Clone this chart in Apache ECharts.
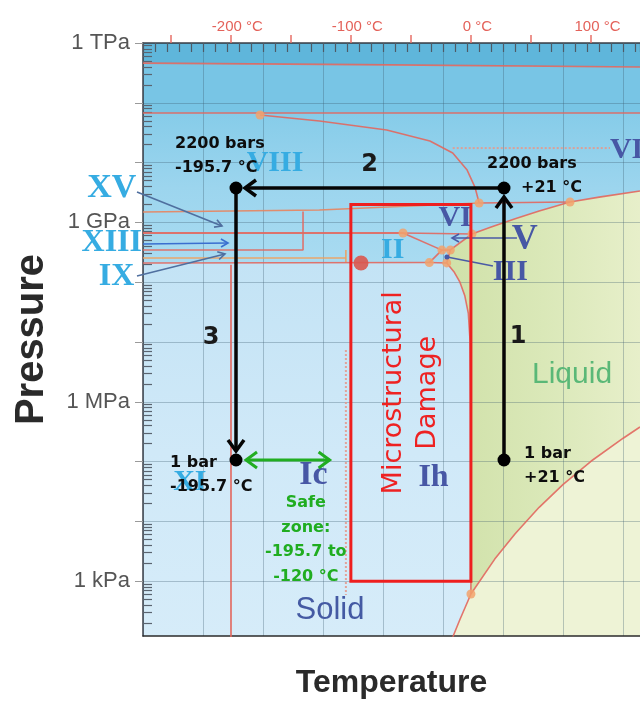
<!DOCTYPE html>
<html>
<head>
<meta charset="utf-8">
<title>Water phase diagram with cryogenic pressure path</title>
<script src="https://cdn.jsdelivr.net/npm/echarts@6.0.0/dist/echarts.min.js"></script>
<style>
  html, body { margin: 0; padding: 0; background: #ffffff; }
  #chart { width: 640px; height: 702px; }
</style>
</head>
<body>
<div id="chart"></div>
<script>
// ---------------------------------------------------------------------------
// Data
// ---------------------------------------------------------------------------
const K0 = 273.15; // 0 °C in kelvin

// Celsius scale printed along the top edge
const celsiusTicks  = [-250, -200, -150, -100, -50, 0, 50, 100];
const celsiusLabels = [-200, -100, 0, 100];

// Pressure scale (Pa)
const pressureTickValues  = [1e3, 1e4, 1e5, 1e6, 1e7, 1e8, 1e9, 1e10, 1e11, 1e12];
const pressureLabelValues = [1e3, 1e6, 1e9, 1e12];
const pressureLabels      = ['1 kPa', '1 MPa', '1 GPa', '1 TPa'];

// Filled phase regions, [T (K), P (Pa)]
const regionHighest  = [[0, 1e12], [414, 1e12], [414, 3.97e11], [0, 4.6e11]];
const regionUpper    = [[0, 4.6e11], [414, 3.97e11], [414, 6.75e10], [0, 6.75e10]];
const regionSolidHi  = [[0, 6.75e10], [414, 6.75e10], [414, 2.1e8], [0, 2.1e8]];
const regionSolidLo  = [[0, 2.1e8], [414, 2.1e8], [414, 100], [0, 100]];
const regionLiquid   = [[273.16, 611.657], [273.15, 1e5], [273, 1e6], [272.5, 1e7], [271, 3e7], [268, 6e7],
                        [264, 1e8], [259, 1.5e8], [253, 2.1e8], [256, 3.46e8], [274, 6.4e8], [290, 8.4e8],
                        [310, 1.15e9], [330, 1.55e9], [355.7, 2.19e9], [380, 2.65e9], [414, 3.35e9],
                        [414, 3.8e5], [400, 2.46e5], [373.15, 1.013e5], [350, 4.17e4], [330, 1.72e4],
                        [310, 6.2e3], [293, 2.34e3]];
const regionVapour   = [[273.16, 611.657], [293, 2.34e3], [310, 6.2e3], [330, 1.72e4], [350, 4.17e4],
                        [373.15, 1.013e5], [400, 2.46e5], [414, 3.8e5], [414, 100], [256.5, 100],
                        [258.4, 121], [264, 229]];

// Phase boundaries, [T (K), P (Pa)]
const boundaryTop     = [[0, 4.6e11], [180, 4.35e11], [414, 3.97e11]];
const boundaryX       = [[0, 6.75e10], [414, 6.75e10]];
const boundaryVIIIVII = [[97.5, 6.25e10], [147, 4.96e10], [203, 3.51e10], [239, 2.3e10], [258, 1.45e10],
                         [270, 7.5e9], [276.5, 3.9e9], [280, 2.11e9]];
const boundaryVIVIII  = [[0, 1.49e9], [147, 1.61e9], [280, 2.11e9]];
const boundaryVIVII   = [[280, 2.11e9], [355.7, 2.19e9]];
const meltVII         = [[355.7, 2.19e9], [380, 2.65e9], [414, 3.35e9]];
const meltVI          = [[274, 6.4e8], [290, 8.4e8], [310, 1.15e9], [330, 1.55e9], [355.7, 2.19e9]];
const boundaryIIVI    = [[0, 6.65e8], [216.6, 6.65e8]];
const boundaryVVI     = [[216.6, 6.65e8], [274, 6.4e8]];
const boundaryXV      = [[0, 3.45e8], [133.3, 3.45e8], [133.3, 1.52e9]];
const boundaryIX      = [[0, 2.54e8], [169, 2.54e8]];
const boundaryIXside  = [[169, 3.45e8], [169, 2.15e8]];
const boundaryIhII    = [[0, 2.1e8], [238.5, 2.13e8]];
const boundaryIIV     = [[216.6, 6.65e8], [249, 3.44e8]];
const boundaryIIIII   = [[249, 3.44e8], [238.5, 2.13e8]];
const boundaryIIIV    = [[249, 3.44e8], [256, 3.46e8]];
const meltV           = [[256, 3.46e8], [274, 6.4e8]];
const meltIII         = [[256, 3.46e8], [253, 2.1e8]];
const boundaryIhIII   = [[238.5, 2.13e8], [253, 2.1e8]];
const meltIh          = [[253, 2.1e8], [259, 1.5e8], [264, 1e8], [268, 6e7], [271, 3e7], [272.5, 1e7],
                         [273, 1e6], [273.15, 1e5], [273.16, 611.657]];
const boilingCurve    = [[273.16, 611.657], [293, 2.34e3], [310, 6.2e3], [330, 1.72e4], [350, 4.17e4],
                         [373.15, 1.013e5], [400, 2.46e5], [414, 3.8e5]];
const sublimationCurve = [[273.16, 611.657], [264, 229], [258.4, 121], [256.5, 100]];
const boundaryXIIh    = [[73.3, 1.95e8], [73.3, 100]];
const boundaryIcIh    = [[169, 7.35e6], [169, 590]];
const boundaryVIIdots = [[258, 1.75e10], [389, 1.75e10]];

// Triple points and markers, [T (K), P (Pa)]
const triplePoints = [[97.5, 6.25e10], [280, 2.11e9], [355.7, 2.19e9], [216.6, 6.65e8], [274, 6.4e8],
                      [249, 3.44e8], [256, 3.46e8], [238.5, 2.13e8], [253, 2.1e8], [273.16, 611.657]];
const redMarker    = [[181.6, 2.1e8]];

// Phase names and where they are written, [T (K), P (Pa)]
const phaseNames  = ['VIII', 'VII', 'VI', 'V', 'II', 'III', 'XI', 'Ic', 'Ih', 'XV', 'XIII', 'IX'];
const phaseLabelT = [110, 407.7, 260, 318, 208, 306, 39, 142, 242, -26, -26, -22];
const phaseLabelP = [9.84e9, 1.63e10, 1.19e9, 5.08e8, 3.45e8, 1.48e8, 4.56e4, 5.97e4, 5.32e4, 3.76e9, 4.53e8, 1.22e8];
const stateNames  = ['Solid', 'Liquid'];
const stateT      = [155.8, 357.4];
const stateP      = [330, 2.8e6];

// Leader arrows from phase names to their fields
const pointerXV   = [[-5, 3.22e9], [65.8, 8.7e8]];
const pointerXIII = [[0, 4.36e8], [70.8, 4.53e8]];
const pointerIX   = [[-5, 1.27e8], [68.3, 2.97e8]];
const pointerV    = [[311.5, 5.48e8], [257.4, 5.48e8]];
const pointerIII  = [[291.5, 1.87e8], [253.2, 2.63e8]];

// Cryogenic path: compress, cool, release (°C, bar)
const pathTempC = [21, 21, -195.7, -195.7];
const pathBar   = [1, 2200, 2200, 1];
const pathSteps = ['1', '2', '3'];

// Safe handling window at 1 bar (°C)
const safeZoneC   = [-195.7, -120];
const safeZoneBar = 1;

// Microstructural damage window (°C, Pa)
const damageC  = [-100, 0];
const damagePa = [1e3, 2e9];

// ---------------------------------------------------------------------------
// Helpers
// ---------------------------------------------------------------------------
const lg = Math.log10;
const toXY = pts => pts.map(p => [p[0], lg(p[1])]);
const minorLogTicks = [];
for (let e = 2; e < 12; e++) for (let k = 2; k <= 9; k++) minorLogTicks.push(e + lg(k));

const Y_MIN = 2.0836, Y_MAX = 12;
const grad = (dirX, stops) => new echarts.graphic.LinearGradient(0, 0, dirX ? 1 : 0, dirX ? 0 : 1,
  stops.map((c, i) => ({ offset: i / (stops.length - 1), color: c })));

function chevron(tip, ux, uy, back, spread) {
  const bx = tip[0] - ux * back, by = tip[1] - uy * back;
  return [[bx - uy * spread, by + ux * spread], tip, [bx + uy * spread, by - ux * spread]];
}

const RED = '#e2675e';
function boundary(pts, extra) {
  return Object.assign({
    type: 'line', xAxisIndex: 0, yAxisIndex: 0, data: toXY(pts), symbol: 'none', showSymbol: false,
    silent: true, clip: true, z: 3,
    lineStyle: Object.assign({ color: RED, width: 1.6, opacity: 0.9 }, extra || {})
  });
}

// ---------------------------------------------------------------------------
// Series
// ---------------------------------------------------------------------------
const regionList  = [regionHighest, regionUpper, regionSolidHi, regionSolidLo, regionLiquid, regionVapour];
const regionFills = [
  '#5fb6db',
  '#78c5e5',
  grad(false, ['#86cce9', '#9cd5ee', '#a9dbf1']),
  grad(false, ['#c3e3f5', '#d0e9f8', '#d6ecf9']),
  grad(true,  ['#d0e1a9', '#dae8b8', '#e7efca']),
  '#eef3d6'
];

const regionSeries = {
  type: 'custom', xAxisIndex: 0, yAxisIndex: 0, z: -1, silent: true, clip: true,
  data: regionList.map(r => [r[0][0], lg(r[0][1])]),
  renderItem(params, api) {
    const pts = regionList[params.dataIndex].map(p => api.coord([p[0], lg(p[1])]));
    return { type: 'polygon', shape: { points: pts }, style: { fill: regionFills[params.dataIndex] } };
  }
};

const boundarySeries = [
  boundary(boundaryTop), boundary(boundaryX), boundary(boundaryVIIIVII),
  boundary(boundaryVIVIII, { color: '#e8845e' }), boundary(boundaryVIVII), boundary(meltVII), boundary(meltVI),
  boundary(boundaryIIVI, { width: 2.2 }), boundary(boundaryVVI), boundary(boundaryXV),
  boundary(boundaryIX, { color: '#f0a05c' }), boundary(boundaryIXside, { color: '#f0a05c' }),
  boundary(boundaryIhII), boundary(boundaryIIV), boundary(boundaryIIIII), boundary(boundaryIIIV),
  boundary(meltV), boundary(meltIII), boundary(boundaryIhIII), boundary(meltIh),
  boundary(boilingCurve), boundary(sublimationCurve), boundary(boundaryXIIh, { width: 1.8 }),
  boundary(boundaryIcIh, { type: 'dotted', width: 2, color: '#e39a8f' }),
  boundary(boundaryVIIdots, { type: 'dotted', width: 2, color: '#e39a8f' })
];

const pointSeries = [
  { type: 'scatter', xAxisIndex: 0, yAxisIndex: 0, data: toXY(triplePoints), symbolSize: 9, silent: true, z: 4,
    itemStyle: { color: '#f2a26c', opacity: 0.85 } },
  { type: 'scatter', xAxisIndex: 0, yAxisIndex: 0, data: toXY(redMarker), symbolSize: 15, silent: true, z: 4,
    itemStyle: { color: '#d9574f', opacity: 0.9 } }
];

const lightPhases = new Set(['VIII', 'II', 'XI', 'XV', 'XIII', 'IX']);
const phaseSizes  = { VIII: 30, VII: 30, VI: 30, V: 36, II: 30, III: 30, XI: 30, Ic: 34, Ih: 32, XV: 34, XIII: 32, IX: 32 };
const phaseLabelSeries = {
  type: 'scatter', xAxisIndex: 0, yAxisIndex: 0, symbolSize: 0, silent: true, clip: false, z: 5,
  itemStyle: { opacity: 1 },
  data: phaseNames.map((n, i) => ({
    name: n, value: [phaseLabelT[i], lg(phaseLabelP[i])],
    label: { color: lightPhases.has(n) ? '#36ace2' : '#4757a5', fontSize: phaseSizes[n] }
  })),
  label: { show: true, opacity: 1, position: 'inside', formatter: p => p.name, fontFamily: 'Liberation Serif', fontWeight: 'bold' }
};

const stateLabelSeries = {
  type: 'scatter', xAxisIndex: 0, yAxisIndex: 0, symbolSize: 0, silent: true, z: 5,
  itemStyle: { opacity: 1 },
  data: stateNames.map((n, i) => ({
    name: n, value: [stateT[i], lg(stateP[i])],
    label: n === 'Solid' ? { color: '#445aa3', fontSize: 31 } : { color: '#5ab877', fontSize: 30 }
  })),
  label: { show: true, opacity: 1, position: 'inside', formatter: p => p.name, fontFamily: 'Liberation Sans' }
};

const pointerList   = [pointerXV, pointerXIII, pointerIX, pointerV, pointerIII];
const pointerColors = ['#4f6f9f', '#3a6fd0', '#4f6f9f', '#4a5aa6', '#4a5aa6'];
const pointerSeries = {
  type: 'custom', xAxisIndex: 0, yAxisIndex: 0, silent: true, clip: false, z: 5,
  data: pointerList.map(p => [p[0][0], lg(p[0][1])]),
  renderItem(params, api) {
    const i = params.dataIndex;
    const seg = pointerList[i];
    const a = api.coord([seg[0][0], lg(seg[0][1])]);
    const b = api.coord([seg[1][0], lg(seg[1][1])]);
    const L = Math.hypot(b[0] - a[0], b[1] - a[1]);
    const ux = (b[0] - a[0]) / L, uy = (b[1] - a[1]) / L;
    const col = pointerColors[i];
    const kids = [{ type: 'line', shape: { x1: a[0], y1: a[1], x2: b[0], y2: b[1] }, style: { stroke: col, lineWidth: 1.6 } }];
    if (i < 4) {
      kids.push({ type: 'polyline', shape: { points: chevron(b, ux, uy, 7, 4) }, style: { stroke: col, lineWidth: 1.6, fill: null } });
    } else {
      kids.push({ type: 'circle', shape: { cx: b[0], cy: b[1], r: 2.5 }, style: { fill: col } });
    }
    return { type: 'group', children: kids };
  }
};

// Damage window rectangle with rotated caption
const damageSeries = {
  type: 'custom', xAxisIndex: 0, yAxisIndex: 0, silent: true, z: 6,
  data: [[damageC[0] + K0, lg(damagePa[0])]],
  renderItem(params, api) {
    const p1 = api.coord([damageC[0] + K0, lg(damagePa[1])]);
    const p2 = api.coord([damageC[1] + K0, lg(damagePa[0])]);
    const cx = (p1[0] + p2[0]) / 2, cy = (p1[1] + p2[1]) / 2;
    return { type: 'group', children: [
      { type: 'rect', shape: { x: p1[0], y: p1[1], width: p2[0] - p1[0], height: p2[1] - p1[1] },
        style: { stroke: '#ee1f1f', lineWidth: 3, fill: null } },
      { type: 'text', x: cx, y: cy, rotation: Math.PI / 2,
        style: { text: 'Microstructural\nDamage', fill: '#ee2222', fontSize: 27, fontFamily: 'DejaVu Sans',
                 align: 'center', verticalAlign: 'middle', textAlign: 'center', textVerticalAlign: 'middle', lineHeight: 34 } }
    ] };
  }
};

// Path arrows (schematic annotation scale: xAxis 3 / yAxis 2)
const stepTextOffsets = [[14, 8], [-5, -23], [-25, 18]];
const pathArrowSeries = {
  type: 'custom', xAxisIndex: 3, yAxisIndex: 2, silent: true, clip: false, z: 8,
  data: pathSteps.map((s, i) => [pathTempC[i], lg(pathBar[i])]),
  renderItem(params, api) {
    const i = params.dataIndex;
    const a = api.coord([pathTempC[i], lg(pathBar[i])]);
    const b = api.coord([pathTempC[i + 1], lg(pathBar[i + 1])]);
    const L = Math.hypot(b[0] - a[0], b[1] - a[1]);
    const ux = (b[0] - a[0]) / L, uy = (b[1] - a[1]) / L;
    const tip = [b[0] - ux * 9, b[1] - uy * 9];
    const mx = (a[0] + tip[0]) / 2 + stepTextOffsets[i][0];
    const my = (a[1] + tip[1]) / 2 + stepTextOffsets[i][1];
    return { type: 'group', children: [
      { type: 'line', shape: { x1: a[0], y1: a[1], x2: tip[0], y2: tip[1] }, style: { stroke: '#050505', lineWidth: 3.5 } },
      { type: 'polyline', shape: { points: chevron(tip, ux, uy, 11, 8) },
        style: { stroke: '#050505', lineWidth: 3.5, fill: null, lineJoin: 'miter' } },
      { type: 'text', x: mx, y: my,
        style: { text: pathSteps[i], fill: '#1a1a1a', fontSize: 24, fontWeight: 'bold', fontFamily: 'DejaVu Sans',
                 align: 'center', verticalAlign: 'middle', textAlign: 'center', textVerticalAlign: 'middle' } }
    ] };
  }
};

const pathLabelPlacement = [
  { offset: [20, 6],    pad: 0 },
  { offset: [-17, -12], pad: 34 },
  { offset: [-61, -32], pad: 0 },
  { offset: [-66, 15],  pad: 0 }
];
const fmtC = t => (t > 0 ? '+' : '') + t + ' °C';
const fmtBar = b => b === 1 ? '1 bar' : b + ' bars';
const pathPointSeries = {
  type: 'scatter', xAxisIndex: 3, yAxisIndex: 2, symbolSize: 13, silent: true, clip: false, z: 9,
  itemStyle: { color: '#000000', opacity: 1 },
  data: pathTempC.map((t, i) => ({
    value: [t, lg(pathBar[i])],
    label: {
      offset: pathLabelPlacement[i].offset,
      formatter: `{a|${fmtBar(pathBar[i])}}\n{b|${fmtC(t)}}`,
      rich: {
        a: { fontSize: 16, fontWeight: 'bold', fontFamily: 'DejaVu Sans', color: '#0d0d0d', lineHeight: 24 },
        b: { fontSize: 16, fontWeight: 'bold', fontFamily: 'DejaVu Sans', color: '#0d0d0d', lineHeight: 24,
             padding: [0, 0, 0, pathLabelPlacement[i].pad] }
      }
    }
  })),
  label: { show: true, opacity: 1, position: 'inside', align: 'left', verticalAlign: 'middle' }
};

const safeZoneSeries = {
  type: 'custom', xAxisIndex: 3, yAxisIndex: 2, silent: true, clip: false, z: 8,
  data: [[safeZoneC[0], lg(safeZoneBar)]],
  renderItem(params, api) {
    const a = api.coord([safeZoneC[0], lg(safeZoneBar)]);
    const b = api.coord([safeZoneC[1], lg(safeZoneBar)]);
    const L = Math.hypot(b[0] - a[0], b[1] - a[1]);
    const ux = (b[0] - a[0]) / L, uy = (b[1] - a[1]) / L;
    const s = [a[0] + ux * 10, a[1] + uy * 10];
    const col = '#21ad21';
    return { type: 'group', children: [
      { type: 'line', shape: { x1: s[0], y1: s[1], x2: b[0], y2: b[1] }, style: { stroke: col, lineWidth: 3 } },
      { type: 'polyline', shape: { points: chevron(b, ux, uy, 11, 8) }, style: { stroke: col, lineWidth: 3, fill: null } },
      { type: 'polyline', shape: { points: chevron(s, -ux, -uy, 11, 8) }, style: { stroke: col, lineWidth: 3, fill: null } },
      { type: 'text', x: (s[0] + b[0]) / 2 + 18, y: a[1] + 80,
        style: { text: `Safe\nzone:\n${safeZoneC[0]} to\n${safeZoneC[1]} °C`, fill: '#20ad20', fontSize: 16,
                 fontWeight: 'bold', fontFamily: 'DejaVu Sans', lineHeight: 24.5,
                 align: 'center', verticalAlign: 'middle', textAlign: 'center', textVerticalAlign: 'middle' } }
    ] };
  }
};

// ---------------------------------------------------------------------------
// Chart
// ---------------------------------------------------------------------------
const GRIDLINE = 'rgba(60,90,110,0.32)';
const option = {
  animation: false,
  backgroundColor: '#ffffff',
  textStyle: { fontFamily: 'Liberation Sans' },
  grid: { left: 143, right: 0, top: 43, bottom: 66, containLabel: false, outerBoundsMode: 'none' },
  xAxis: [
    { // kelvin scale: grid lines and frame bottom
      type: 'value', min: 0, max: 414, interval: 50, position: 'bottom',
      axisLine: { show: true, onZero: false, lineStyle: { color: '#2b2b2b', width: 1.5 } },
      axisTick: { show: false }, axisLabel: { show: false },
      splitLine: { show: true, lineStyle: { color: GRIDLINE, width: 1 } },
      name: 'Temperature', nameLocation: 'middle', nameGap: 31,
      nameTextStyle: { fontSize: 32, fontWeight: 'bold', color: '#2a2a2a', fontFamily: 'Liberation Sans' }
    },
    { // kelvin minor ticks along the top frame
      type: 'value', min: 0, max: 414, interval: 10, position: 'top',
      axisLine: { show: true, onZero: false, lineStyle: { color: '#3a3f48', width: 1.5 } },
      axisTick: { show: true, inside: true, length: 9, lineStyle: { color: '#4f5a66', width: 1.2 } },
      axisLabel: { show: false }, splitLine: { show: false }
    },
    { // celsius labels above the frame
      type: 'value', min: -K0, max: 414 - K0, position: 'top',
      axisLine: { show: false, onZero: false },
      axisTick: { show: true, inside: false, length: 8, customValues: celsiusTicks, lineStyle: { color: '#e8716a', width: 1.5 } },
      axisLabel: { show: true, customValues: celsiusLabels, formatter: v => `${v} °C`, color: '#e4625a',
                   fontSize: 15, margin: 9, padding: [0, 0, 0, 13] },
      splitLine: { show: false }
    },
    { // schematic temperature scale of the path annotation
      type: 'value', min: -270.9, max: 130.97, show: false, axisLine: { onZero: false }
    }
  ],
  yAxis: [
    {
      type: 'value', min: Y_MIN, max: Y_MAX, position: 'left',
      axisLine: { show: true, onZero: false, lineStyle: { color: '#3a3f48', width: 1.5 } },
      axisTick: { show: true, inside: false, length: 8, customValues: pressureTickValues.map(v => Math.round(lg(v))),
                  lineStyle: { color: '#9a9a9a' } },
      axisLabel: { show: true, customValues: pressureLabelValues.map(v => Math.round(lg(v))),
                   formatter: v => pressureLabels[pressureLabelValues.findIndex(p => Math.abs(lg(p) - v) < 1e-6)],
                   color: '#555555', fontSize: 22, margin: 13 },
      splitLine: { show: true, lineStyle: { color: GRIDLINE, width: 1 } },
      name: 'Pressure', nameLocation: 'middle', nameRotate: 90, nameGap: 91,
      nameTextStyle: { fontSize: 40, fontWeight: 'bold', color: '#2a2a2a', fontFamily: 'Liberation Sans' }
    },
    { // logarithmic minor ticks inside the left frame
      type: 'value', min: Y_MIN, max: Y_MAX, position: 'left', offset: 0,
      axisLine: { show: false, onZero: false },
      axisTick: { show: true, inside: true, length: 9, customValues: minorLogTicks, lineStyle: { color: '#5a6470', width: 1.2 } },
      axisLabel: { show: false }, splitLine: { show: false }
    },
    { // schematic pressure scale of the path annotation, log10(bar)
      type: 'value', min: -2.1627, max: 5.1241, show: false, axisLine: { onZero: false }
    }
  ],
  series: [
    regionSeries,
    ...boundarySeries,
    ...pointSeries,
    phaseLabelSeries,
    stateLabelSeries,
    pointerSeries,
    damageSeries,
    safeZoneSeries,
    pathArrowSeries,
    pathPointSeries
  ]
};

const chart = echarts.init(document.getElementById('chart'), null, { renderer: 'canvas' });
chart.setOption(option);
</script>
</body>
</html>
